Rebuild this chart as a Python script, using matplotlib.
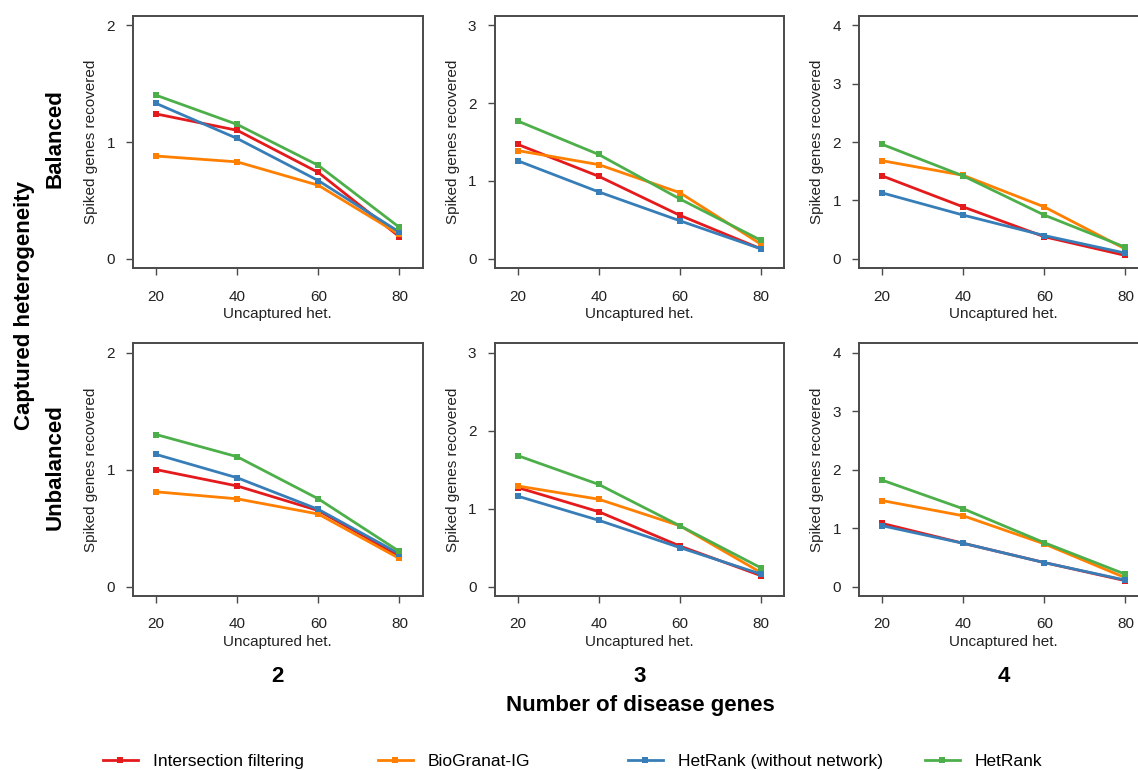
import matplotlib
matplotlib.use('Agg')
import matplotlib.pyplot as plt
from matplotlib.lines import Line2D

plt.rcParams['font.family'] = ['Liberation Sans', 'DejaVu Sans']

# ---------------- data ----------------
uncaptured_het = [20, 40, 60, 80]
n_disease_genes = ['2', '3', '4']
row_labels = ['Balanced', 'Unbalanced']
methods = ['Intersection filtering', 'BioGranat-IG', 'HetRank (without network)', 'HetRank']
colors = ['#E41A1C', '#FF7F00', '#377EB8', '#4DAF4A']
y_max = [2, 3, 4]

# Balanced, 2 disease genes
bal2_inter = [1.24, 1.10, 0.74, 0.19]
bal2_bio = [0.88, 0.83, 0.63, 0.21]
bal2_hetnn = [1.33, 1.03, 0.67, 0.23]
bal2_het = [1.40, 1.15, 0.80, 0.27]
# Balanced, 3 disease genes
bal3_inter = [1.47, 1.06, 0.56, 0.13]
bal3_bio = [1.39, 1.21, 0.85, 0.19]
bal3_hetnn = [1.26, 0.86, 0.49, 0.13]
bal3_het = [1.77, 1.34, 0.77, 0.24]
# Balanced, 4 disease genes
bal4_inter = [1.42, 0.89, 0.38, 0.06]
bal4_bio = [1.68, 1.43, 0.89, 0.17]
bal4_hetnn = [1.13, 0.75, 0.40, 0.10]
bal4_het = [1.96, 1.42, 0.75, 0.20]
# Unbalanced, 2 disease genes
unb2_inter = [1.00, 0.86, 0.65, 0.26]
unb2_bio = [0.81, 0.75, 0.62, 0.24]
unb2_hetnn = [1.13, 0.93, 0.66, 0.28]
unb2_het = [1.30, 1.11, 0.75, 0.30]
# Unbalanced, 3 disease genes
unb3_inter = [1.27, 0.96, 0.52, 0.14]
unb3_bio = [1.29, 1.12, 0.78, 0.18]
unb3_hetnn = [1.16, 0.85, 0.50, 0.16]
unb3_het = [1.68, 1.31, 0.78, 0.24]
# Unbalanced, 4 disease genes
unb4_inter = [1.08, 0.74, 0.41, 0.10]
unb4_bio = [1.47, 1.21, 0.73, 0.15]
unb4_hetnn = [1.04, 0.74, 0.41, 0.11]
unb4_het = [1.82, 1.33, 0.75, 0.21]

panels = [
    [[bal2_inter, bal2_bio, bal2_hetnn, bal2_het],
     [bal3_inter, bal3_bio, bal3_hetnn, bal3_het],
     [bal4_inter, bal4_bio, bal4_hetnn, bal4_het]],
    [[unb2_inter, unb2_bio, unb2_hetnn, unb2_het],
     [unb3_inter, unb3_bio, unb3_hetnn, unb3_het],
     [unb4_inter, unb4_bio, unb4_hetnn, unb4_het]],
]

# ---------------- layout ----------------
W, H = 1138, 770
fig = plt.figure(figsize=(W / 100, H / 100), dpi=100)

col_left = [133, 494.5, 859]
row_top = [15.7, 343.3]
pw, ph = 289.5, 252.6
spine_col = '#4a4a4a'
txt_col = '#222222'


def rect(left, top, w, h):
    return [left / W, 1 - (top + h) / H, w / W, h / H]


for r in range(2):
    for c in range(3):
        ax = fig.add_axes(rect(col_left[c], row_top[r], pw, ph))
        for series, col in zip(panels[r][c], colors):
            ax.plot(uncaptured_het, series, color=col, lw=2.0, marker='s',
                    markersize=4.5, markeredgewidth=0, solid_capstyle='round')
        m = y_max[c]
        ax.set_xlim(14.3, 85.7)
        ax.set_ylim(-0.04 * m, 1.04 * m)
        ax.set_xticks(uncaptured_het)
        ax.set_yticks(list(range(m + 1)))
        for s in ax.spines.values():
            s.set_color(spine_col)
            s.set_linewidth(1.4)
        ax.tick_params(direction='out', length=5, width=1.0, color=spine_col,
                       labelsize=11, labelcolor=txt_col)
        ax.tick_params(axis='x', pad=10.5)
        ax.tick_params(axis='y', pad=8)
        ax.set_xlabel('Uncaptured het.', fontsize=11, color=txt_col)
        ax.xaxis.set_label_coords(0.5, -46 / ph)
        ax.xaxis.label.set_va('center')
        ax.set_ylabel('Spiked genes recovered', fontsize=11, color=txt_col)
        ax.yaxis.set_label_coords(-42 / pw, 0.5)
        ax.yaxis.label.set_va('center')

# row labels
fig.text(25 / W, 1 - 305 / H, 'Captured heterogeneity', rotation=90, fontsize=16,
         fontweight='bold', ha='center', va='center')
for r, lab in enumerate(row_labels):
    fig.text(55 / W, 1 - (row_top[r] + ph / 2 - 3) / H, lab, rotation=90,
             fontsize=16, fontweight='bold', ha='center', va='center')

# column labels
for c, lab in enumerate(n_disease_genes):
    fig.text((col_left[c] + pw / 2) / W, 1 - 676 / H, lab, fontsize=16,
             fontweight='bold', ha='center', va='center')
fig.text(640 / W, 1 - 705 / H, 'Number of disease genes', fontsize=16,
         fontweight='bold', ha='center', va='center')

# legend
leg_x = [103, 378, 628, 925]
for name, col, x in zip(methods, colors, leg_x):
    h = Line2D([], [], color=col, lw=2.0, marker='s', markersize=4.5,
               markeredgewidth=0)
    fig.legend(handles=[h], labels=[name], loc='center left',
               bbox_to_anchor=(x / W, 1 - 761 / H), frameon=False,
               fontsize=12.5, handlelength=2.0, handletextpad=0.86,
               borderaxespad=0, borderpad=0)

fig.savefig('out.png', dpi=100, facecolor='white')
